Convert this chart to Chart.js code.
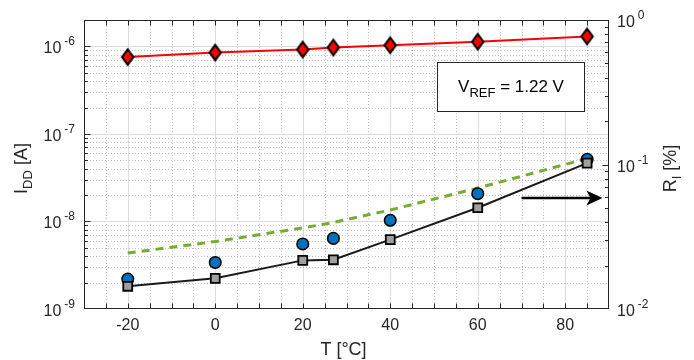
<!DOCTYPE html>
<html>
<head>
<meta charset="utf-8">
<script src="https://cdn.jsdelivr.net/npm/chart.js@4.4.1/dist/chart.umd.min.js"></script>
<style>
  html, body { margin: 0; padding: 0; background: #fff; }
  canvas { display: block; }
</style>
</head>
<body>
<canvas id="chart" width="694" height="360"></canvas>
<script>
// temperature points [°C]
const temps = [-20, 0, 20, 27, 40, 60, 85];
// I_DD [A], left axis
const iddValues = [7.55e-7, 8.5e-7, 9.2e-7, 9.7e-7, 1.03e-6, 1.13e-6, 1.3e-6];
// R_I [%], right axis
const riCircles = [0.0161, 0.0210, 0.0282, 0.0308, 0.0411, 0.0628, 0.1087];
const riSquares = [0.01436, 0.0163, 0.0217, 0.0219, 0.0302, 0.0502, 0.1023];
const riDashed = [0.0244, 0.0293, 0.0364, 0.0397, 0.0484, 0.0687, 0.110];

// axis ticks
const xTickLabels = [-20, 0, 20, 40, 60, 80];
const leftTickExps = [-9, -8, -7, -6];
const rightTickExps = [-2, -1, 0];

// annotations (data units)
const arrowT = [70, 88.5];
const arrowRi = 0.0586;
const boxT = [50.6, 84.2];
const boxIdd = [6.56e-7, 1.81e-7];

const FONT = '"Liberation Sans", Arial, Helvetica, sans-serif';
const AXIS = '#262626';

function diamondImage() {
    const c = document.createElement('canvas');
    c.width = 16; c.height = 20;
    const g = c.getContext('2d');
    g.beginPath();
    g.moveTo(8, 2.3); g.lineTo(13.7, 10); g.lineTo(8, 17.7); g.lineTo(2.3, 10);
    g.closePath();
    g.fillStyle = '#ff0000';
    g.fill();
    g.lineWidth = 2;
    g.strokeStyle = '#000';
    g.stroke();
    return c;
}

const pts = vals => temps.map((t, i) => ({ x: t, y: vals[i] }));

function supText(ctx, x, y, base, sup, align) {
    ctx.font = '16px ' + FONT;
    const wb = ctx.measureText(base).width;
    ctx.font = '12px ' + FONT;
    const ws = ctx.measureText(sup).width;
    const gap = 3;
    let x0 = align === 'right' ? x - (wb + gap + ws) : x;
    ctx.textAlign = 'left';
    ctx.textBaseline = 'alphabetic';
    ctx.font = '16px ' + FONT;
    ctx.fillText(base, x0, y + 7);
    ctx.font = '12px ' + FONT;
    ctx.fillText(sup, x0 + wb + gap, y - 1);
}

// text with a subscript part: [ [text, isSub], ... ]
function subText(ctx, parts, size, subSize, subDrop, cx, baseY) {
    let total = 0;
    const widths = parts.map(([s, sub]) => {
        ctx.font = (sub ? subSize : size) + 'px ' + FONT;
        const w = ctx.measureText(s).width;
        total += w;
        return w;
    });
    let x = cx - total / 2;
    ctx.textAlign = 'left';
    ctx.textBaseline = 'alphabetic';
    parts.forEach(([s, sub], i) => {
        ctx.font = (sub ? subSize : size) + 'px ' + FONT;
        ctx.fillText(s, x, baseY + (sub ? subDrop : 0));
        x += widths[i];
    });
}

const decor = {
    id: 'decor',
    beforeDatasetsDraw(chart) {
        const { ctx, chartArea: a, scales: { x, yL } } = chart;
        ctx.save();
        ctx.lineWidth = 1;
        // vertical grid
        for (let t = x.min + 5; t < x.max; t += 5) {
            const px = Math.round(x.getPixelForValue(t)) + 0.5;
            ctx.beginPath();
            if (t % 20 === 0) { ctx.setLineDash([]); ctx.strokeStyle = '#dcdcdc'; }
            else { ctx.setLineDash([1, 2]); ctx.strokeStyle = '#c2c2c2'; }
            ctx.moveTo(px, a.top); ctx.lineTo(px, a.bottom); ctx.stroke();
        }
        // horizontal grid (left axis)
        for (let e = -9; e <= -6; e++) {
            for (let k = 1; k <= 9; k++) {
                const v = k * Math.pow(10, e);
                if (v <= yL.min * 1.0001 || v >= yL.max * 0.9999) continue;
                const py = Math.round(yL.getPixelForValue(v)) + 0.5;
                ctx.beginPath();
                if (k === 1) { ctx.setLineDash([]); ctx.strokeStyle = '#dcdcdc'; }
                else { ctx.setLineDash([1, 2]); ctx.strokeStyle = '#c2c2c2'; }
                ctx.moveTo(a.left, py); ctx.lineTo(a.right, py); ctx.stroke();
            }
        }
        ctx.restore();
    },
    afterDatasetsDraw(chart) {
        const { ctx, chartArea: a, scales: { x, yL, yR } } = chart;
        ctx.save();
        ctx.strokeStyle = AXIS;
        ctx.fillStyle = AXIS;
        ctx.lineWidth = 1;
        const L = Math.round(a.left) + 0.5, R = Math.round(a.right) - 0.5;
        const T = Math.round(a.top) + 0.5, B = Math.round(a.bottom) - 0.5;
        ctx.strokeRect(L, T, R - L, B - T);

        // x ticks top and bottom
        ctx.beginPath();
        for (let t = x.min + 5; t < x.max; t += 5) {
            const px = Math.round(x.getPixelForValue(t)) + 0.5;
            ctx.moveTo(px, B); ctx.lineTo(px, B - 5);
            ctx.moveTo(px, T); ctx.lineTo(px, T + 5);
        }
        // y ticks left
        for (let e = -9; e <= -6; e++) {
            for (let k = 1; k <= 9; k++) {
                const v = k * Math.pow(10, e);
                if (v <= yL.min * 1.0001 || v >= yL.max * 0.9999) continue;
                const py = Math.round(yL.getPixelForValue(v)) + 0.5;
                const len = k === 1 ? 6 : 3.5;
                ctx.moveTo(L, py); ctx.lineTo(L + len, py);
            }
        }
        // y ticks right
        for (let e = -2; e <= -1; e++) {
            for (let k = 1; k <= 9; k++) {
                const v = k * Math.pow(10, e);
                if (v <= yR.min * 1.0001 || v >= yR.max * 0.9999) continue;
                const py = Math.round(yR.getPixelForValue(v)) + 0.5;
                const len = k === 1 ? 6 : 3.5;
                ctx.moveTo(R, py); ctx.lineTo(R - len, py);
            }
        }
        ctx.stroke();

        // y tick labels
        leftTickExps.forEach(e => {
            supText(ctx, a.left - 9, yL.getPixelForValue(Math.pow(10, e)), '10', String(e), 'right');
        });
        rightTickExps.forEach(e => {
            supText(ctx, a.right + 8, yR.getPixelForValue(Math.pow(10, e)), '10', String(e), 'left');
        });

        // axis titles
        const cy = (a.top + a.bottom) / 2 + 4;
        ctx.save();
        ctx.translate(27, cy);
        ctx.rotate(-Math.PI / 2);
        subText(ctx, [['I', false], ['DD', true], [' [A]', false]], 18, 13, 5, 0, 0);
        ctx.restore();

        ctx.save();
        ctx.translate(676, cy);
        ctx.rotate(-Math.PI / 2);
        subText(ctx, [['R', false], ['I', true], [' [%]', false]], 18, 13, 5, 0, 0);
        ctx.restore();

        subText(ctx, [['T [°C]', false]], 18, 13, 0, (a.left + a.right) / 2 - 3, 355);

        // arrow
        const ax1 = x.getPixelForValue(arrowT[0]);
        const ax2 = x.getPixelForValue(arrowT[1]);
        const ay = yR.getPixelForValue(arrowRi);
        ctx.strokeStyle = '#000';
        ctx.fillStyle = '#000';
        ctx.lineWidth = 2.5;
        ctx.beginPath();
        ctx.moveTo(ax1, ay); ctx.lineTo(ax2 - 10, ay);
        ctx.stroke();
        ctx.beginPath();
        ctx.moveTo(ax2, ay);
        ctx.lineTo(ax2 - 16, ay - 7.5);
        ctx.lineTo(ax2 - 12, ay);
        ctx.lineTo(ax2 - 16, ay + 7.5);
        ctx.closePath();
        ctx.fill();

        // text box
        const bx1 = Math.round(x.getPixelForValue(boxT[0])) + 0.5;
        const bx2 = Math.round(x.getPixelForValue(boxT[1])) + 0.5;
        const by1 = Math.round(yL.getPixelForValue(boxIdd[0])) + 0.5;
        const by2 = Math.round(yL.getPixelForValue(boxIdd[1])) + 0.5;
        ctx.fillStyle = '#fff';
        ctx.fillRect(bx1, by1, bx2 - bx1, by2 - by1);
        ctx.strokeStyle = AXIS;
        ctx.lineWidth = 1;
        ctx.strokeRect(bx1, by1, bx2 - bx1, by2 - by1);
        ctx.fillStyle = '#000';
        subText(ctx, [['V', false], ['REF', true], [' = 1.22 V', false]], 17, 13, 5,
            (bx1 + bx2) / 2, (by1 + by2) / 2 + 5);

        ctx.restore();
    }
};

new Chart(document.getElementById('chart'), {
    type: 'line',
    data: {
        datasets: [
            {
                label: 'I_DD',
                data: pts(iddValues),
                yAxisID: 'yL',
                borderColor: '#ff0000',
                borderWidth: 2,
                pointStyle: diamondImage(),
                pointRadius: 8,
                order: 0
            },
            {
                label: 'R_I squares',
                data: pts(riSquares),
                yAxisID: 'yR',
                borderColor: '#1a1a1a',
                borderWidth: 2,
                pointStyle: 'rect',
                pointRadius: 6.3,
                pointBorderWidth: 1.8,
                pointBorderColor: '#000',
                pointBackgroundColor: '#a0a0a0',
                order: 1
            },
            {
                label: 'R_I circles',
                data: pts(riCircles),
                yAxisID: 'yR',
                showLine: false,
                pointStyle: 'circle',
                pointRadius: 5.8,
                pointBorderWidth: 1.5,
                pointBorderColor: '#000',
                pointBackgroundColor: '#0072bd',
                order: 2
            },
            {
                label: 'R_I dashed',
                data: pts(riDashed),
                yAxisID: 'yR',
                borderColor: '#77ac30',
                borderWidth: 3,
                borderDash: [8, 6],
                pointRadius: 0,
                order: 3
            }
        ]
    },
    options: {
        responsive: false,
        animation: false,
        layout: { padding: { top: 20, left: 0, right: 0, bottom: 0 } },
        plugins: { legend: { display: false }, tooltip: { enabled: false } },
        scales: {
            x: {
                type: 'linear',
                min: -30,
                max: 90,
                afterBuildTicks: s => { s.ticks = xTickLabels.map(v => ({ value: v })); },
                afterFit: s => { s.height = 51; },
                grid: { display: false, drawTicks: false },
                border: { display: false },
                ticks: {
                    padding: 7,
                    color: AXIS,
                    font: { family: FONT, size: 16 },
                    maxRotation: 0,
                    callback: v => String(v)
                }
            },
            yL: {
                type: 'logarithmic',
                position: 'left',
                min: 1e-9,
                max: 2e-6,
                afterFit: s => { s.width = 84; },
                grid: { display: false, drawTicks: false },
                border: { display: false },
                ticks: { display: false }
            },
            yR: {
                type: 'logarithmic',
                position: 'right',
                min: 1e-2,
                max: 1,
                afterFit: s => { s.width = 85; },
                grid: { display: false, drawTicks: false },
                border: { display: false },
                ticks: { display: false }
            }
        }
    },
    plugins: [decor]
});
</script>
</body>
</html>
